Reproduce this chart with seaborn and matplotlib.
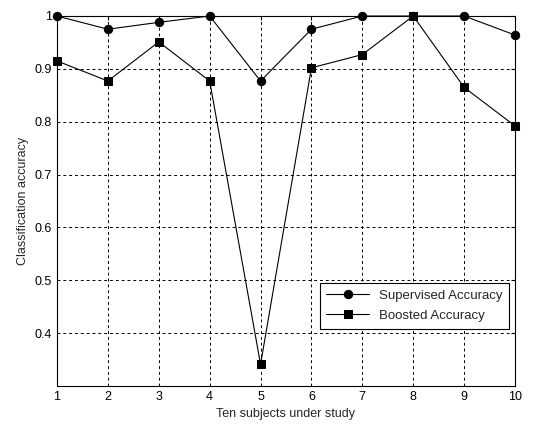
import numpy as np
import pandas as pd
import matplotlib
matplotlib.use("Agg")
import matplotlib.pyplot as plt
import seaborn as sns

subjects = [1, 2, 3, 4, 5, 6, 7, 8, 9, 10]
supervised = [1.0, 0.975, 0.988, 1.0, 0.877, 0.975, 1.0, 1.0, 1.0, 0.964]
boosted = [0.915, 0.877, 0.951, 0.877, 0.341, 0.902, 0.927, 1.0, 0.865, 0.792]
series_names = ["Supervised Accuracy", "Boosted Accuracy"]
yticks = [0.4, 0.5, 0.6, 0.7, 0.8, 0.9, 1.0]
ytick_labels = ["0.4", "0.5", "0.6", "0.7", "0.8", "0.9", "1"]

df = pd.DataFrame({
    "subject": subjects * 2,
    "accuracy": supervised + boosted,
    "series": [series_names[0]] * len(subjects) + [series_names[1]] * len(subjects),
})

sns.set_style("white")
plt.rcParams["font.family"] = ["Liberation Sans", "DejaVu Sans"]

fig = plt.figure(figsize=(5.34, 4.26), dpi=100)
ax = fig.add_axes([57 / 534, 1 - 386 / 426, (515 - 57) / 534, (386 - 16) / 426])

sns.lineplot(data=df, x="subject", y="accuracy", hue="series", style="series",
             markers={series_names[0]: "o", series_names[1]: "s"}, dashes=False,
             palette={series_names[0]: "black", series_names[1]: "black"},
             markersize=6, linewidth=0.8, markeredgecolor="black", ax=ax)
for ln in ax.lines:
    ln.set_clip_on(False)
    ln.set_zorder(5)

ax.set_xlim(1, 10)
ax.set_ylim(0.3, 1.0)
ax.set_xticks(subjects)
ax.set_yticks(yticks)
ax.set_yticklabels(ytick_labels)
ax.grid(True, linestyle=(0, (3, 3)), color="black", linewidth=0.7)
ax.set_axisbelow(True)
for s in ax.spines.values():
    s.set_color("black")
    s.set_linewidth(0.8)
ax.tick_params(axis="both", labelsize=9, colors="black", direction="in", length=3,
               top=True, right=True)
ax.set_xlabel("Ten subjects under study", fontsize=9)
ax.set_ylabel("Classification accuracy", fontsize=9)

leg = ax.legend(loc="lower right", bbox_to_anchor=(1.002, 0.137), fontsize=9.5,
                frameon=True, fancybox=False, edgecolor="black", handlelength=3.2,
                borderpad=0.5, labelspacing=0.6, framealpha=1)
leg.get_frame().set_linewidth(0.8)

fig.savefig("out.png", dpi=100, facecolor="white")
